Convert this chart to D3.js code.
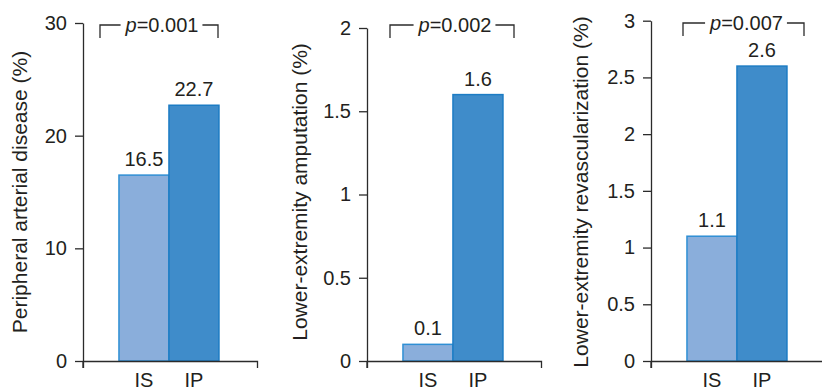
<!DOCTYPE html>
<html>
<head>
<meta charset="utf-8">
<script src="https://cdn.jsdelivr.net/npm/d3@7"></script>
<style>
  html, body { margin: 0; padding: 0; background: #fff; }
  svg { display: block; font-family: "Liberation Sans", Arial, Helvetica, sans-serif; }
  .axis path, .axis line { stroke: #2b2b2b; stroke-width: 1.3; }
  .axis text { fill: #231f20; font-size: 20px; }
</style>
</head>
<body>
<svg id="chart" width="822" height="390"></svg>
<script>
// Groups shown in every panel
const categories = ["IS", "IP"];

// Outcome rates (%) per group
const padValues = [16.5, 22.7];
const amputationValues = [0.1, 1.6];
const revascValues = [1.1, 2.6];

// Y-axis ticks and their labels
const padTicks = [0, 10, 20, 30];
const padTickLabels = ["0", "10", "20", "30"];
const amputationTicks = [0, 0.5, 1, 1.5, 2];
const amputationTickLabels = ["0", "0.5", "1", "1.5", "2"];
const revascTicks = [0, 0.5, 1, 1.5, 2, 2.5, 3];
const revascTickLabels = ["0", "0.5", "1", "1.5", "2", "2.5", "3"];

// Axis titles and p-values
const titles = ["Peripheral arterial disease (%)", "Lower-extremity amputation (%)", "Lower-extremity revascularization (%)"];
const pValues = ["0.001", "0.002", "0.007"];

const panels = [
  { values: padValues, ticks: padTicks, tickLabels: padTickLabels, max: 30 },
  { values: amputationValues, ticks: amputationTicks, tickLabels: amputationTickLabels, max: 2 },
  { values: revascValues, ticks: revascTicks, tickLabels: revascTickLabels, max: 3 }
].map((p, i) => Object.assign(p, { title: titles[i], pValue: pValues[i] }));

// Panel placement
const layout = [
  { x0: 83,  yTop: 23,   titleX: -56, brL: 17, brR: 135, brY: 25 },
  { x0: 367, yTop: 28,   titleX: -60, brL: 23, brR: 147, brY: 25 },
  { x0: 651, yTop: 20.7, titleX: -63, brL: 32, brR: 153, brY: 23 }
];
const yBase = 361;
const axisLen = 174;
const fills = { IS: "#8aaedb", IP: "#3f8cca" };
const strokes = { IS: "#2f8fd4", IP: "#1c7cc4" };

const svg = d3.select("#chart");

panels.forEach((p, i) => {
  const L = layout[i];
  const g = svg.append("g").attr("transform", `translate(${L.x0},0)`);

  const y = d3.scaleLinear().domain([0, p.max]).range([yBase, L.yTop]);
  const x = d3.scaleBand().domain(categories).range([0, axisLen])
    .paddingInner(0).paddingOuter(0.74).align(0.486);

  // bars
  g.selectAll("rect.bar").data(categories).join("rect")
    .attr("class", "bar")
    .attr("x", d => x(d))
    .attr("width", x.bandwidth())
    .attr("y", (d, j) => y(p.values[j]))
    .attr("height", (d, j) => yBase - y(p.values[j]))
    .attr("fill", d => fills[d])
    .attr("stroke", d => strokes[d])
    .attr("stroke-width", 1.5);

  // value labels
  g.selectAll("text.val").data(categories).join("text")
    .attr("class", "val")
    .attr("x", d => x(d) + x.bandwidth() / 2)
    .attr("y", (d, j) => y(p.values[j]) - 9)
    .attr("text-anchor", "middle")
    .attr("font-size", 20)
    .attr("fill", "#231f20")
    .text((d, j) => p.values[j].toString());

  // y axis
  const ya = g.append("g").attr("class", "axis")
    .call(d3.axisLeft(y).tickValues(p.ticks)
      .tickFormat((d, k) => p.tickLabels[k])
      .tickSizeInner(8).tickSizeOuter(0).tickPadding(8));
  ya.append("line").attr("x1", 0).attr("x2", 0).attr("y1", yBase).attr("y2", yBase + 7);

  // x axis
  g.append("g").attr("class", "axis")
    .attr("transform", `translate(0,${yBase})`)
    .call(d3.axisBottom(x).tickSizeInner(0).tickSizeOuter(7).tickPadding(12));

  // axis title
  g.append("text")
    .attr("transform", `translate(${L.titleX},${192}) rotate(-90)`)
    .attr("text-anchor", "middle")
    .attr("font-size", 21)
    .attr("fill", "#231f20")
    .text(p.title);

  // significance bracket
  const cx = (L.brL + L.brR) / 2 + 3;
  const pt = g.append("text")
    .attr("x", cx).attr("y", L.brY + 6.5)
    .attr("text-anchor", "middle")
    .attr("font-size", 20)
    .attr("fill", "#231f20");
  pt.append("tspan").attr("font-style", "italic").text("p");
  pt.append("tspan").text("=" + p.pValue);
  const bb = pt.node().getBBox();
  const br = g.append("g").attr("fill", "none").attr("stroke", "#2b2b2b").attr("stroke-width", 1.3);
  br.append("path").attr("d", `M${L.brL},${L.brY + 13}V${L.brY}H${bb.x - 4}`);
  br.append("path").attr("d", `M${bb.x + bb.width + 4},${L.brY}H${L.brR}V${L.brY + 13}`);
});
</script>
</body>
</html>
